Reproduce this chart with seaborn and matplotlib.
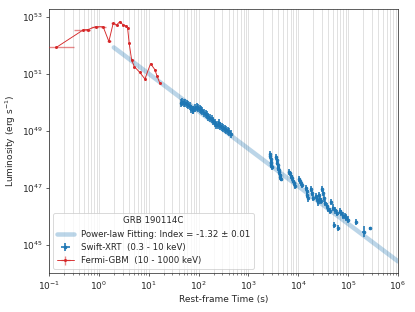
"""
Rest-frame luminosity light curve of GRB 190114C (Fermi-GBM + Swift-XRT)
with the power-law fit overlaid.
"""
import numpy as np
import pandas as pd
import matplotlib
matplotlib.use("Agg")
import matplotlib.pyplot as plt
from matplotlib.ticker import NullLocator
import seaborn as sns


# Fermi-GBM (10 - 1000 keV): rest-frame time (s), log10 luminosity, half bin width (s)
gbm_time = [0.14, 0.49, 0.61, 0.86, 1.22, 1.59, 1.94, 2.27, 2.64, 3.08, 3.49,
            3.78, 4.06, 4.54, 5.12, 6.66, 8.4, 10.9, 13.3, 14.8, 16.7]
gbm_logL = [51.93, 52.55, 52.56, 52.66, 52.66, 52.14, 52.78, 52.72, 52.84, 52.72, 52.69,
            52.60, 52.08, 51.50, 51.26, 51.05, 50.82, 51.36, 51.15, 50.91, 50.68]
gbm_xerr = [0.18, 0.17, 0.05, 0.15, 0.15, 0.15, 0.15, 0.15, 0.15, 0.15, 0.15,
            0.15, 0.15, 0.2, 0.3, 0.4, 0.4, 0.5, 0.6, 0.6, 0.6]

# Swift-XRT (0.3 - 10 keV): rest-frame time (s), log10 luminosity, error (dex)
xrt_time = [44, 47, 50, 54, 58, 62, 66, 71, 76, 79, 85, 91, 98, 105, 112, 120,
            129, 138, 148, 158, 170, 182, 195, 209, 224, 240, 257, 275, 295, 316,
            339, 363, 389, 417, 447,
            2690, 2750, 2790, 2820, 2850, 2880, 2920,
            3630, 3720, 3800, 3890, 3980, 4070, 4170, 4270, 4370, 4470,
            6460, 6760, 7080, 7410, 7760, 8130, 8510,
            10200, 10700, 11200, 11700,
            14500, 14800, 15100, 15500,
            18200, 19100, 20000,
            22400, 23400, 24500,
            25700, 26900, 28200,
            29500, 30900, 32400,
            34700, 37200, 39800, 42700, 46200,
            50100, 55000, 60300, 52500, 61700,
            67600, 72400, 77600, 85100, 91200, 97700,
            145000, 204000, 280000]
xrt_logL = [49.97, 50.00, 49.96, 49.98, 49.93, 49.91, 49.86, 49.78, 49.72, 49.74,
            49.80, 49.82, 49.80, 49.78, 49.74, 49.69, 49.64, 49.60, 49.55, 49.49,
            49.45, 49.40, 49.33, 49.28, 49.22, 49.20, 49.26, 49.18, 49.12, 49.10,
            49.06, 49.02, 48.98, 48.95, 48.90,
            48.18, 48.10, 48.00, 47.92, 47.85, 47.78, 47.72,
            48.08, 47.98, 47.88, 47.78, 47.70, 47.62, 47.55, 47.45, 47.38, 47.32,
            47.55, 47.50, 47.42, 47.35, 47.25, 47.15, 47.05,
            47.30, 47.22, 47.15, 47.08,
            47.00, 46.88, 46.75, 46.62,
            46.95, 46.80, 46.65,
            46.72, 46.60, 46.48,
            46.75, 46.60, 46.52,
            46.95, 46.80, 46.62,
            46.45, 46.35, 46.25, 46.18, 46.50,
            46.30, 46.20, 46.12, 45.68, 45.58,
            46.18, 46.10, 46.02, 46.00, 45.95, 45.88,
            45.80, 45.45, 45.57]
xrt_err_dex = [0.14] * 35 + [0.1] * 7 + [0.1] * 10 + [0.1] * 7 + [0.1] * 4 \
    + [0.11] * 4 + [0.11] * 3 + [0.11] * 3 + [0.11] * 3 + [0.11] * 3 \
    + [0.11] * 5 + [0.11] * 5 + [0.11] * 6 + [0.1, 0.2, 0.06]
xrt_xerr_frac = 0.05

# power-law fit, index -1.32 +/- 0.01, drawn between its end points
fit_time = [2.0, 1.0e6]
fit_logL = [51.93, 44.41]
fit_label = "Power-law Fitting: Index = -1.32 ± 0.01"


def log_errors(logL, dex):
    """Asymmetric linear error bars from a symmetric error in dex."""
    logL = np.asarray(logL)
    dex = np.asarray(dex)
    L = 10.0 ** logL
    return L, np.vstack([L - 10.0 ** (logL - dex), 10.0 ** (logL + dex) - L])


def main() -> None:
    sns.set_style("ticks")
    plt.rcParams["font.family"] = ["DejaVu Sans"]
    plt.rcParams["font.size"] = 10

    dpi = 415 / 6.4
    fig, ax = plt.subplots(figsize=(6.4, 312 / dpi), dpi=dpi)
    fig.subplots_adjust(left=0.118, right=0.959, bottom=0.125, top=0.971)

    fit_df = pd.DataFrame({"t": fit_time, "L": 10.0 ** np.asarray(fit_logL)})
    sns.lineplot(data=fit_df, x="t", y="L", ax=ax, color="tab:blue", alpha=0.3,
                 linewidth=5, label=fit_label, zorder=2)

    L, yerr = log_errors(xrt_logL, xrt_err_dex)
    t = np.asarray(xrt_time, dtype=float)
    ax.errorbar(t, L, xerr=t * xrt_xerr_frac, yerr=yerr, fmt=".", color="tab:blue",
                markersize=6, elinewidth=1.8, label="Swift-XRT  (0.3 - 10 keV)", zorder=3)

    gL, gyerr = log_errors(gbm_logL, [0.02] * len(gbm_logL))
    ax.errorbar(gbm_time, gL, xerr=gbm_xerr, yerr=gyerr, fmt=".-", color="tab:red",
                ecolor=(0.84, 0.15, 0.16, 0.55), markersize=4.5, linewidth=1.0,
                elinewidth=1.5, label="Fermi-GBM  (10 - 1000 keV)", zorder=4)

    ax.set_xscale("log")
    ax.set_yscale("log")
    ax.set_xlim(1e-1, 1e6)
    ax.set_ylim(10 ** 44.0, 10 ** 53.28)
    ax.set_yticks([1e45, 1e47, 1e49, 1e51, 1e53])
    ax.yaxis.set_minor_locator(NullLocator())
    ax.grid(True, which="both", axis="x", color="0.86", linewidth=0.9)

    ax.set_xlabel("Rest-frame Time (s)")
    ax.set_ylabel("Luminosity (erg s$^{-1}$)")

    ax.legend(title="GRB 190114C", loc="lower left", fontsize=9.6, title_fontsize=9.6)

    fig.savefig("out.png", dpi=dpi)


if __name__ == "__main__":
    main()
